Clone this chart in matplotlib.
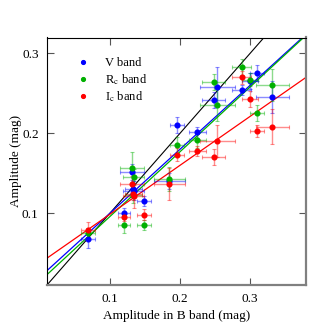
import matplotlib
matplotlib.use("Agg")
import matplotlib.pyplot as plt
import numpy as np

plt.rcParams['font.family'] = ['Liberation Serif', 'DejaVu Serif']
plt.rcParams['mathtext.fontset'] = 'stix'

# B-band amplitudes (mag)
b_amp = [0.068, 0.120, 0.131, 0.134, 0.133, 0.149, 0.185, 0.196, 0.225,
         0.248, 0.253, 0.288, 0.300, 0.310, 0.332]
b_err = [0.010, 0.008, 0.017, 0.015, 0.012, 0.010, 0.022, 0.010, 0.012,
         0.016, 0.025, 0.014, 0.012, 0.010, 0.024]
v_amp = [0.067, 0.100, 0.152, 0.128, 0.130, 0.1155, 0.140, 0.210, 0.2015,
         0.242, 0.258, 0.254, 0.265, 0.276, 0.246]
v_err = [0.011, 0.006, 0.010, 0.012, 0.010, 0.006, 0.010, 0.010, 0.007,
         0.010, 0.025, 0.006, 0.010, 0.010, 0.020]
r_amp = [0.075, 0.085, 0.156, 0.145, 0.123, 0.085, 0.143, 0.185, 0.191,
         0.264, 0.236, 0.2825, 0.267, 0.226, 0.261]
r_err = [0.006, 0.010, 0.020, 0.010, 0.010, 0.006, 0.015, 0.010, 0.010,
         0.010, 0.020, 0.010, 0.008, 0.010, 0.020]
i_amp = [0.079, 0.095, 0.136, 0.121, 0.124, 0.098, 0.136, 0.173, 0.178,
         0.170, 0.190, 0.270, 0.243, 0.203, 0.208]
i_err = [0.010, 0.005, 0.010, 0.015, 0.008, 0.007, 0.020, 0.008, 0.006,
         0.010, 0.020, 0.008, 0.010, 0.008, 0.022]

# linear fits: slope, intercept
fit_slopes = [0.80, 0.81, 0.612]
fit_intercepts = [0.020, 0.0149, 0.0375]
band_labels = ['V band', r'R$_\mathrm{c}$ band', r'I$_\mathrm{c}$ band']
band_colors = ['#0000ff', '#00b000', '#ff0000']

fig = plt.figure(figsize=(3.26, 3.26), dpi=100)
ax = fig.add_axes([47/326, 1-285/326, (306-47)/326, (285-37.5)/326])

xlim = (0.01, 0.38)
ylim = (0.01, 0.32)
xx = np.array(xlim)
ax.plot(xx, xx, color='black', lw=0.8, zorder=2)

series = [(v_amp, v_err), (r_amp, r_err), (i_amp, i_err)]
for (amp, err), col, lab, s, c in zip(series, band_colors, band_labels,
                                       fit_slopes, fit_intercepts):
    ax.errorbar(b_amp, amp, xerr=b_err, yerr=err, fmt='none', ecolor=col,
                alpha=0.45, elinewidth=1.0, capsize=1.2, capthick=0.8, zorder=3)
    ax.plot(b_amp, amp, 'o', color=col, ms=3.4, zorder=4, label=lab)
    ax.plot(xx, s * xx + c, color=col, lw=0.9, zorder=2)

ax.set_xlim(*xlim)
ax.set_ylim(*ylim)
ax.set_xticks([0.1, 0.2, 0.3])
ax.set_yticks([0.1, 0.2, 0.3])
ax.set_xticklabels(['0.1', '0.2', '0.3'])
ax.set_yticklabels(['0.1', '0.2', '0.3'])
ax.tick_params(direction='in', length=5, width=0.8, top=True, right=True,
               labelsize=9.5, pad=6, color='#555555')
ax.set_xlabel('Amplitude in B band (mag)', fontsize=9.5, labelpad=3)
ax.set_ylabel('Amplitude (mag)', fontsize=9.5, labelpad=0)

for side in ['top', 'left']:
    ax.spines[side].set_color('black')
    ax.spines[side].set_linewidth(0.8)
for side in ['right', 'bottom']:
    ax.spines[side].set_color('#808080')
    ax.spines[side].set_linewidth(1.6)

leg = ax.legend(loc='upper left', bbox_to_anchor=(0.07, 0.965), frameon=False,
                fontsize=9, handlelength=1.0, handletextpad=1.3,
                labelspacing=0.2, markerscale=0.8)

fig.savefig('out.png', dpi=100)
